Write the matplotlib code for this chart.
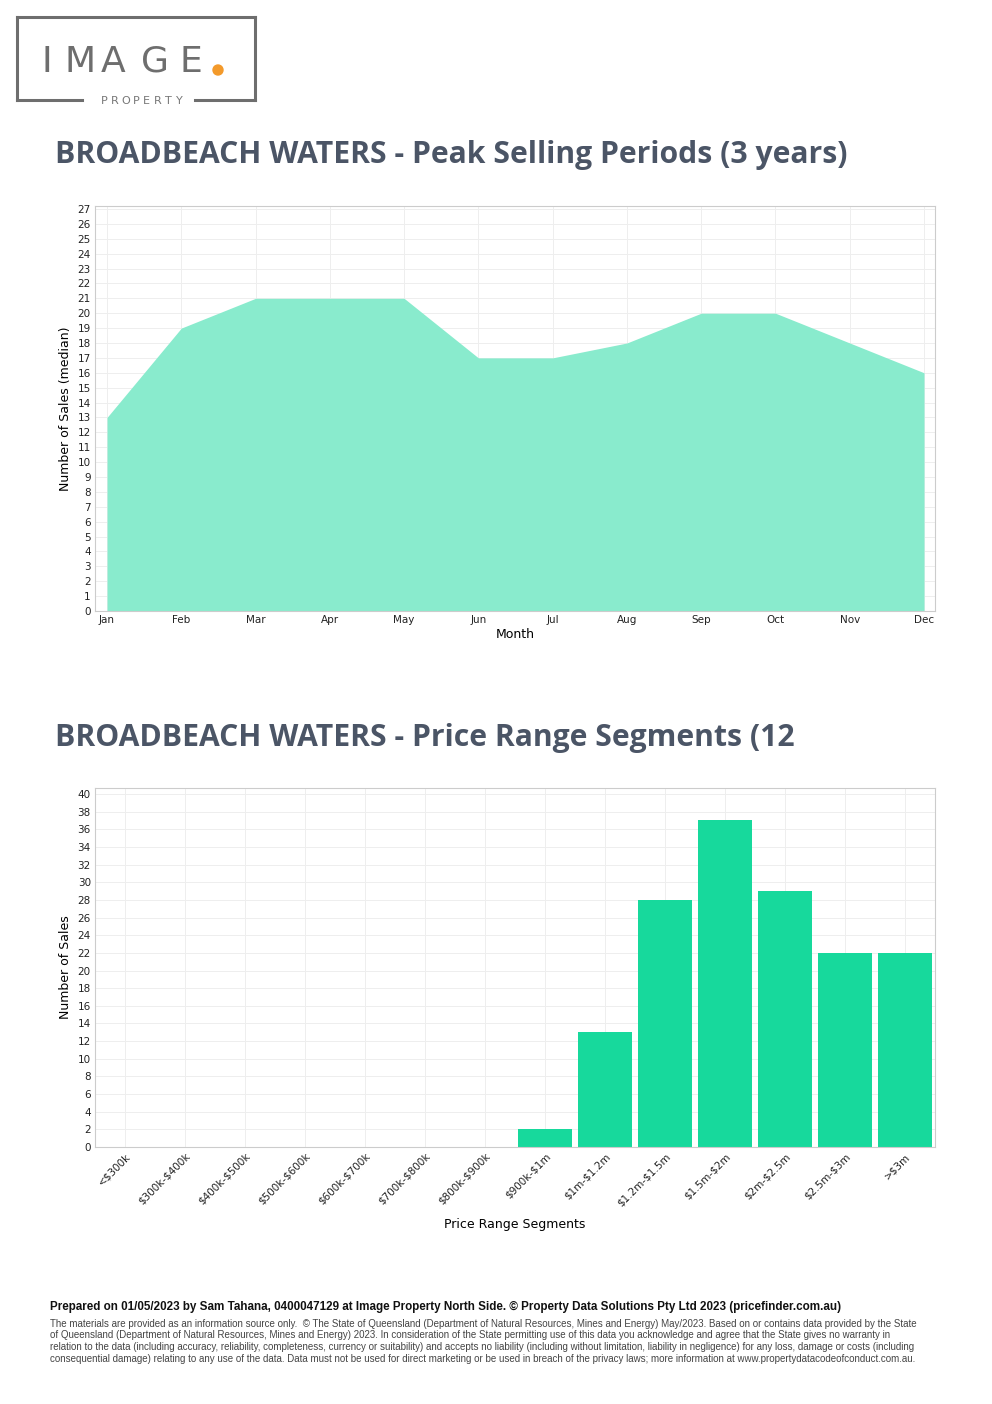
import numpy as np
import matplotlib.pyplot as plt
from matplotlib.lines import Line2D
from matplotlib.patches import Circle

# data
months = ['Jan', 'Feb', 'Mar', 'Apr', 'May', 'Jun', 'Jul', 'Aug', 'Sep', 'Oct', 'Nov', 'Dec']
median_sales = [13, 19, 21, 21, 21, 17, 17, 18, 20, 20, 18, 16]

price_ranges = ['<$300k', '$300k-$400k', '$400k-$500k', '$500k-$600k', '$600k-$700k',
                '$700k-$800k', '$800k-$900k', '$900k-$1m', '$1m-$1.2m', '$1.2m-$1.5m',
                '$1.5m-$2m', '$2m-$2.5m', '$2.5m-$3m', '>$3m']
range_sales = [0, 0, 0, 0, 0, 0, 0, 2, 13, 28, 37, 29, 22, 22]

W, H = 992, 1404
fig = plt.figure(figsize=(W / 100, H / 100), dpi=100)


def px_axes(left, top, right, bottom):
    return fig.add_axes([left / W, 1 - bottom / H, (right - left) / W, (bottom - top) / H])


def style_axes(ax):
    for s in ax.spines.values():
        s.set_color('#cccccc')
        s.set_linewidth(0.8)
    ax.tick_params(length=0, pad=3, labelsize=7.5, colors='#222222')
    ax.grid(True, color='#eeeeee', linewidth=0.7)
    ax.set_axisbelow(True)


# page layer for logo, titles, footer (pixel coords)
page = fig.add_axes([0, 0, 1, 1])
page.set_xlim(0, W)
page.set_ylim(H, 0)
page.axis('off')

# logo
logo_col = '#6e6e6e'
for xs, ys in [([17, 255], [17, 17]), ([17, 17], [17, 100]), ([255, 255], [17, 100]),
               ([17, 82], [100, 100]), ([195, 255], [100, 100])]:
    page.add_line(Line2D(xs, ys, color=logo_col, linewidth=2.2, solid_capstyle='projecting'))
for ch, x in zip('IMAGE', [47, 80, 113, 155, 191]):
    page.text(x, 72, ch, fontsize=26, color=logo_col, ha='center', va='baseline',
              family='DejaVu Sans')
page.add_patch(Circle((218, 70), 5, color='#f39a2b'))
for ch, x in zip('PROPERTY', np.linspace(104, 179, 8)):
    page.text(x, 104, ch, fontsize=8, color='#777777', ha='center', va='baseline')

# titles
title_kw = dict(fontsize=21.7, fontweight='bold', color='#4b5566', family='Open Sans', va='baseline')
page.text(55, 163, 'BROADBEACH WATERS - Peak Selling Periods (3 years)', **title_kw)
page.text(55, 746, 'BROADBEACH WATERS - Price Range Segments (12', **title_kw)

# chart 1: peak selling periods
ax1 = px_axes(95, 206, 935, 611)
x = np.arange(len(months))
ax1.fill_between(x, median_sales, 0, color='#89ebcd', linewidth=0)
ax1.set_xlim(-0.162, 11.148)
ax1.set_ylim(0, 27.2)
ax1.set_xticks(x)
ax1.set_xticklabels(months)
ax1.set_yticks(range(0, 28))
style_axes(ax1)
ax1.set_xlabel('Month', fontsize=9, labelpad=2)
ax1.set_ylabel('Number of Sales (median)', fontsize=9, labelpad=4)

# chart 2: price range segments
ax2 = px_axes(95, 788, 935, 1147)
x2 = np.arange(len(price_ranges))
ax2.bar(x2, range_sales, width=0.9, color='#17d99c', linewidth=0)
ax2.set_xlim(-0.5, 13.5)
ax2.set_ylim(0, 40.68)
ax2.set_xticks(x2)
ax2.set_xticklabels([p.replace('$', r'\$') for p in price_ranges], rotation=45,
                    ha='right', rotation_mode='anchor')
ax2.set_yticks(range(0, 41, 2))
style_axes(ax2)
ax2.set_xlabel('Price Range Segments', fontsize=9, labelpad=7)
ax2.set_ylabel('Number of Sales', fontsize=9, labelpad=4)

# footer
page.text(50, 1310, 'Prepared on 01/05/2023 by Sam Tahana, 0400047129 at Image Property North Side. '
          '\u00a9 Property Data Solutions Pty Ltd 2023 (pricefinder.com.au)',
          fontsize=8.35, fontweight='bold', family='Liberation Sans', va='baseline', color='#111111')
footer_lines = [
    'The materials are provided as an information source only.  \u00a9 The State of Queensland (Department of Natural Resources, Mines and Energy) May/2023. Based on or contains data provided by the State',
    'of Queensland (Department of Natural Resources, Mines and Energy) 2023. In consideration of the State permitting use of this data you acknowledge and agree that the State gives no warranty in',
    'relation to the data (including accuracy, reliability, completeness, currency or suitability) and accepts no liability (including without limitation, liability in negligence) for any loss, damage or costs (including',
    'consequential damage) relating to any use of the data. Data must not be used for direct marketing or be used in breach of the privacy laws; more information at www.propertydatacodeofconduct.com.au.',
]
for i, line in enumerate(footer_lines):
    page.text(50, 1327 + i * 11.5, line, fontsize=7.0, family='Liberation Sans',
              va='baseline', color='#444444')

fig.savefig('out.png', dpi=100)
